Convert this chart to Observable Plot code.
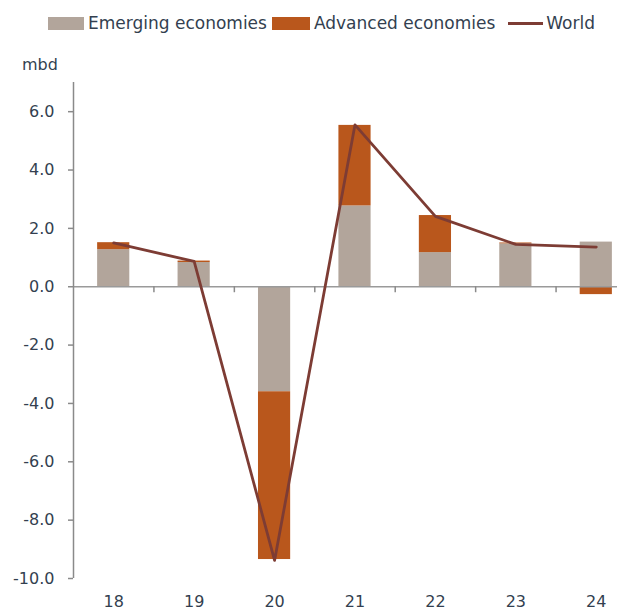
<!DOCTYPE html>
<html>
<head>
<meta charset="utf-8">
<script src="https://cdn.jsdelivr.net/npm/d3@7"></script>
<script src="https://cdn.jsdelivr.net/npm/@observablehq/plot@0.6"></script>
<style>
  html, body { margin: 0; padding: 0; background: #fff; }
  body { width: 617px; height: 614px; overflow: hidden; font-family: "DejaVu Sans", sans-serif; color: #333f50; }
  #header { position: relative; height: 76px; }
  #legend { position: absolute; left: 48px; top: 13px; display: flex; align-items: center; font-size: 17px; white-space: nowrap; }
  .sw { display: inline-block; width: 36px; height: 13px; margin-right: 4px; }
  .ln { display: inline-block; width: 35px; height: 3px; margin-right: 3px; }
  .item { display: flex; align-items: center; margin-right: 5px; }
  #unit { position: absolute; left: 22px; top: 55px; font-size: 16px; }
</style>
</head>
<body>
<div id="header">
  <div id="legend"></div>
  <div id="unit">mbd</div>
</div>
<div id="chart"></div>
<script>
const years = [18, 19, 20, 21, 22, 23, 24];
const emerging = [1.27, 0.83, -3.6, 2.77, 1.17, 1.47, 1.53];
const advanced = [0.24, 0.05, -5.75, 2.76, 1.27, 0.03, -0.27];
const world = [1.50, 0.87, -9.38, 5.55, 2.41, 1.45, 1.36];
const yTicks = [-10, -8, -6, -4, -2, 0, 2, 4, 6];
const seriesNames = ["Emerging economies", "Advanced economies", "World"];
const colors = ["#b2a59b", "#b9571c", "#7d3c34"];

const xDomain = [years[0] - 0.5, years[years.length - 1] + 0.5];
const boundaries = years.map(y => y + 0.5);

// manual stacking (positives up, negatives down)
const rects = [];
years.forEach((yr, i) => {
  const e = emerging[i], a = advanced[i];
  rects.push({year: yr, series: seriesNames[0], y1: 0, y2: e});
  const base = (Math.sign(a) === Math.sign(e)) ? e : 0;
  rects.push({year: yr, series: seriesNames[1], y1: base, y2: base + a});
});
const worldData = years.map((yr, i) => ({year: yr, value: world[i]}));

// legend
const legend = document.getElementById("legend");
seriesNames.forEach((name, i) => {
  const item = document.createElement("div");
  item.className = "item";
  const sw = document.createElement("span");
  sw.className = i < 2 ? "sw" : "ln";
  sw.style.background = colors[i];
  if (i === 1) sw.style.width = "38px";
  if (i === 2) item.style.marginLeft = "8px";
  item.appendChild(sw);
  const t = document.createElement("span");
  t.textContent = name;
  item.appendChild(t);
  legend.appendChild(item);
});

const plot = Plot.plot({
  width: 617,
  height: 538,
  marginTop: 6,
  marginBottom: 36,
  marginLeft: 73,
  marginRight: 0,
  style: {fontFamily: "DejaVu Sans, sans-serif", fontSize: "16px", color: "#333f50", background: "#fff"},
  x: {domain: xDomain, range: [73, 636], axis: null, label: null},
  y: {domain: [-10, 7], axis: null, label: null},
  marks: [
    Plot.rect(rects, {
      x1: d => d.year - 0.2, x2: d => d.year + 0.2,
      y1: "y1", y2: "y2",
      fill: d => colors[seriesNames.indexOf(d.series)]
    }),
    Plot.ruleY([0], {stroke: "#9a9a9a", strokeWidth: 1.5}),
    Plot.ruleX(boundaries, {y1: 0, y2: 0, insetBottom: -6, stroke: "#8a8a8a", strokeWidth: 1.5}),
    Plot.ruleX([xDomain[0]], {y1: -10, y2: 7, stroke: "#8a8a8a", strokeWidth: 1.5}),
    Plot.axisY({ticks: yTicks, tickSize: 5, tickPadding: 14, tickFormat: d => d.toFixed(1), stroke: "#8a8a8a", strokeWidth: 1.5, fill: "#333f50", label: null}),
    Plot.axisX({ticks: years, tickSize: 0, tickPadding: 17, tickFormat: d => String(d), fill: "#333f50", label: null}),
    Plot.line(worldData, {x: "year", y: "value", stroke: colors[2], strokeWidth: 2.8})
  ]
});
document.getElementById("chart").appendChild(plot);
</script>
</body>
</html>
